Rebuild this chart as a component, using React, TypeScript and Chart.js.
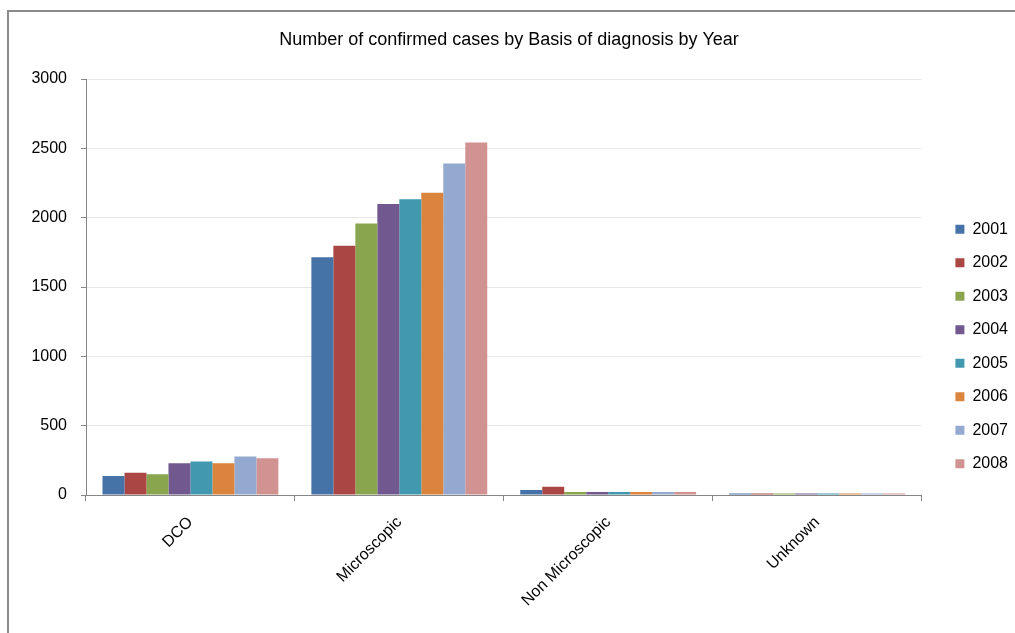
import React, { useEffect, useRef } from "react";
import { Chart, registerables } from "chart.js";

Chart.register(...registerables);

const TITLE = "Number of confirmed cases by Basis of diagnosis by Year";
const categories = ["DCO", "Microscopic", "Non Microscopic", "Unknown"];
const years = ["2001", "2002", "2003", "2004", "2005", "2006", "2007", "2008"];

// values per year, in category order
const y2001 = [137, 1715, 36, 10];
const y2002 = [161, 1797, 60, 10];
const y2003 = [150, 1958, 22, 10];
const y2004 = [229, 2098, 22, 10];
const y2005 = [241, 2132, 22, 10];
const y2006 = [229, 2180, 22, 10];
const y2007 = [277, 2390, 22, 10];
const y2008 = [265, 2542, 22, 10];

const seriesValues = [y2001, y2002, y2003, y2004, y2005, y2006, y2007, y2008];
const colors = ["#4572A7", "#AA4643", "#89A54E", "#71588F", "#4198AF", "#DB843D", "#93A9CF", "#D19392"];

const yMin = 0;
const yMax = 3000;
const yStep = 500;

const FONT = "'Liberation Sans', Arial, sans-serif";

export default function App() {
  const ref = useRef<HTMLCanvasElement | null>(null);

  useEffect(() => {
    const canvas = ref.current;
    if (!canvas) return;
    const chart = new Chart(canvas, {
      type: "bar",
      data: {
        labels: categories,
        datasets: years.map((y, i) => ({
          label: y,
          data: seriesValues[i],
          backgroundColor: colors[i],
          borderWidth: 0,
          categoryPercentage: 0.842,
          barPercentage: 1,
        })),
      },
      options: {
        animation: false,
        responsive: false,
        maintainAspectRatio: false,
        layout: { padding: { left: 0, top: 0, right: -3, bottom: 0 } },
        plugins: {
          title: {
            display: true,
            text: TITLE,
            color: "#000",
            font: { family: FONT, size: 18, weight: "normal" },
            padding: { top: 29, bottom: 28.4 },
          },
          legend: {
            position: "right",
            align: "center",
            title: { display: true, text: "", padding: { top: 24, bottom: 24 }, font: { size: 10 } },
            labels: {
              boxWidth: 9,
              boxHeight: 9,
              padding: 17.5,
              color: "#000",
              font: { family: FONT, size: 16 },
            },
          },
          tooltip: { enabled: false },
        },
        scales: {
          x: {
            type: "category",
            offset: true,
            grid: {
              display: true,
              drawOnChartArea: false,
              drawTicks: true,
              tickLength: 6,
              offset: true,
              color: "#868686",
            },
            border: { color: "#868686", width: 1 },
            ticks: {
              color: "#000",
              font: { family: FONT, size: 16 },
              minRotation: 45,
              maxRotation: 45,
              autoSkip: false,
              padding: 12,
            },
            afterFit: (s: any) => {
              s.height = 138;
            },
          },
          y: {
            min: yMin,
            max: yMax,
            ticks: {
              stepSize: yStep,
              color: "#000",
              font: { family: FONT, size: 16 },
              padding: 14,
              callback: (v: any) => String(v),
            },
            grid: { color: "#e8e8e8", tickColor: "#868686", tickLength: 5 },
            border: { color: "#868686", width: 1 },
            afterFit: (s: any) => {
              s.width = 86;
            },
          },
          gap: {
            type: "linear",
            position: "right",
            display: true,
            grid: { display: false, drawTicks: false },
            border: { display: false },
            ticks: { display: false },
            afterFit: (s: any) => {
              s.width = 16.4;
            },
          },
        },
      } as any,
    });
    return () => chart.destroy();
  }, []);

  return (
    <div
      style={{
        position: "fixed",
        left: 0,
        top: 0,
        width: 1015,
        height: 633,
        overflow: "hidden",
        background: "#fff",
      }}
    >
      <div
        style={{
          position: "absolute",
          left: 7,
          top: 10,
          width: 2000,
          height: 2000,
          borderLeft: "2px solid #8c8c8c",
          borderTop: "2px solid #8c8c8c",
        }}
      />
      <canvas
        ref={ref}
        width={1015}
        height={633}
        style={{ position: "absolute", left: 0, top: 0, width: 1015, height: 633 }}
      />
    </div>
  );
}
